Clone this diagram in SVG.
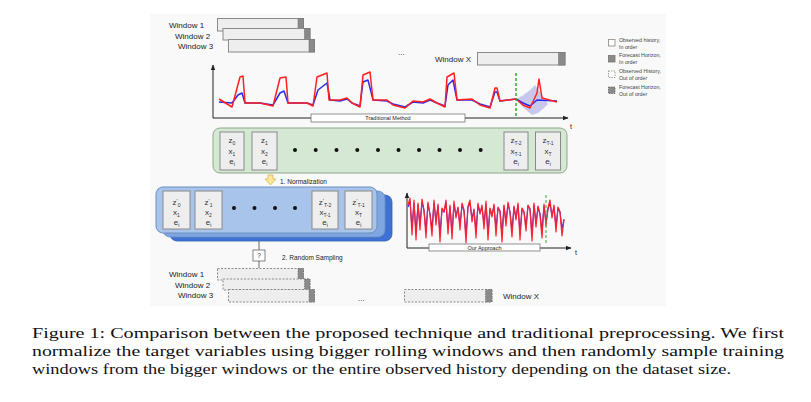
<svg xmlns="http://www.w3.org/2000/svg" width="811" height="402" viewBox="0 0 811 402">
<defs>
<style>
.lbl{font-family:"Liberation Sans",Arial,sans-serif;fill:#222;}
.win{fill:#eeeeee;stroke:#8a8a8a;stroke-width:1;}
.cap{fill:#8a8a8a;stroke:#777;stroke-width:0.6;}
.dwin{fill:#eeeeee;stroke:#8a8a8a;stroke-width:1;stroke-dasharray:2,1.5;}
.dcap{fill:#8a8a8a;stroke:#666;stroke-width:0.6;stroke-dasharray:1.5,1;}
.cell{fill:#eeeeee;stroke:#8a8a8a;stroke-width:1;}
.ct{font-family:"Liberation Sans",Arial,sans-serif;font-size:8px;fill:#333;text-anchor:middle;}
.axis{stroke:#222;stroke-width:1;fill:none;}
.dot{fill:#111;}
.lg{font-family:"Liberation Sans",Arial,sans-serif;font-size:5.3px;fill:#444;}
.cap2{font-family:"Liberation Serif","Times New Roman",serif;font-size:15.5px;fill:#111;}
</style>
<marker id="ah" viewBox="0 0 10 10" refX="9" refY="5" markerWidth="6" markerHeight="6" orient="auto">
<path d="M0,1 L10,5 L0,9 z" fill="#222"/>
</marker>
</defs>
<rect x="0" y="0" width="811" height="402" fill="#ffffff"/>
<rect x="150" y="14" width="516" height="292" fill="#f9f9f9"/>

<g id="top-windows">
<text class="lbl" x="169" y="28" font-size="8">Window 1</text>
<rect class="win" x="217.5" y="18.5" width="86" height="12.5"/>
<rect class="cap" x="298" y="18.5" width="5.5" height="12.5"/>
<text class="lbl" x="175" y="39" font-size="8">Window 2</text>
<rect class="win" x="223" y="28.5" width="87" height="11.5"/>
<rect class="cap" x="304.5" y="28.5" width="5.5" height="11.5"/>
<text class="lbl" x="178" y="49" font-size="8">Window 3</text>
<rect class="win" x="228.5" y="39.5" width="86" height="12.5"/>
<rect class="cap" x="309" y="39.5" width="5.5" height="12.5"/>
<text class="lbl" x="398" y="55" font-size="8">...</text>
<text class="lbl" x="435" y="62" font-size="8">Window X</text>
<rect class="win" x="477.5" y="52.5" width="87.5" height="12.5"/>
<rect class="cap" x="558.5" y="52.5" width="6.5" height="12.5"/>
</g>

<g id="legend">
<rect x="608.5" y="39.5" width="6.5" height="6.5" fill="#fff" stroke="#888" stroke-width="0.8"/>
<text class="lg" x="619" y="41.5">Observed history,</text>
<text class="lg" x="619" y="48.5">In order</text>
<rect x="608.5" y="55.5" width="6.5" height="6.5" fill="#8a8a8a" stroke="#777" stroke-width="0.8"/>
<text class="lg" x="619" y="57">Forecast Horizon,</text>
<text class="lg" x="619" y="64">In order</text>
<rect x="608.5" y="71" width="6.5" height="6.5" fill="#fff" stroke="#888" stroke-width="0.8" stroke-dasharray="1.5,1"/>
<text class="lg" x="619" y="73">Observed History,</text>
<text class="lg" x="619" y="80">Out of order</text>
<rect x="608.5" y="87" width="6.5" height="6.5" fill="#8a8a8a" stroke="#666" stroke-width="0.8" stroke-dasharray="1.5,1"/>
<text class="lg" x="619" y="88.5">Forecast Horizon,</text>
<text class="lg" x="619" y="95.5">Out of order</text>
</g>

<g id="top-chart">
<line class="axis" x1="213" y1="118" x2="213" y2="65" marker-end="url(#ah)"/>
<line class="axis" x1="213" y1="118" x2="568" y2="118" marker-end="url(#ah)"/>
<text class="lbl" x="570" y="129" font-size="7">t</text>
<polygon points="516,99 522,96 530,90 535,85 540,92 545,100 548,104 544,108 538,113 532,115 526,110 520,104" fill="#8080e0" fill-opacity="0.4"/>
<polyline fill="none" stroke="#2a2aee" stroke-width="1.5" stroke-linejoin="round" points="219,102 232,103 238,95 242,93 245,103 260,103 273,105 280,93 284,91 288,103 307,103 313,105 318,90 327,83 330,100 340,101 347,99 352,103 360,106 363,82 368,80 373,100 387,101 393,104 405,107 413,102 423,103 430,100 437,103 445,106 448,85 453,80 457,100 472,100 480,104 490,107 495,92 497,92 500,101 516,99 523,103 530,106 537,100 557,101"/>
<polyline fill="none" stroke="#ff2020" stroke-width="1.5" stroke-linejoin="round" points="219,99 232,107 240,77 243,76 245,103 260,103 273,106 280,78 286,77 288,103 307,103 313,106 317,77 327,73 329,100 340,100 347,98 352,103 360,107 363,75 370,72 373,100 387,100 393,105 405,108 413,101 423,102 430,99 437,103 445,107 447,77 454,73 457,100 472,99 480,105 490,108 495,88 497,88 500,101 516,99 523,105 530,108 537,93 539,79 542,98 557,102"/>
<line x1="516" y1="73" x2="516" y2="117" stroke="#33aa33" stroke-width="1.5" stroke-dasharray="3,2"/>
<rect x="311" y="114" width="154" height="8" fill="#fff" stroke="#777" stroke-width="0.8"/>
<text class="lbl" x="388" y="120.2" font-size="5.5" text-anchor="middle">Traditional Method</text>
</g>

<g id="green-sequence">
<rect x="213" y="128" width="354" height="45" rx="7" fill="#d5e8d4" stroke="#8fa889" stroke-width="1"/>
<rect class="cell" x="220" y="132" width="24" height="38"/>
<text class="ct" x="232" y="143">z<tspan font-size="5" dy="2">0</tspan></text>
<text class="ct" x="232" y="154">x<tspan font-size="5" dy="2">1</tspan></text>
<text class="ct" x="232" y="164">e<tspan font-size="5" dy="2">i</tspan></text>
<rect class="cell" x="252" y="132" width="25" height="38"/>
<text class="ct" x="264.5" y="143">z<tspan font-size="5" dy="2">1</tspan></text>
<text class="ct" x="264.5" y="154">x<tspan font-size="5" dy="2">2</tspan></text>
<text class="ct" x="264.5" y="164">e<tspan font-size="5" dy="2">i</tspan></text>
<circle class="dot" cx="295" cy="150" r="2"/>
<circle class="dot" cx="315.7" cy="150" r="2"/>
<circle class="dot" cx="336.5" cy="150" r="2"/>
<circle class="dot" cx="357.3" cy="150" r="2"/>
<circle class="dot" cx="378" cy="150" r="2"/>
<circle class="dot" cx="398.5" cy="150" r="2"/>
<circle class="dot" cx="419" cy="150" r="2"/>
<circle class="dot" cx="439.5" cy="150" r="2"/>
<circle class="dot" cx="460" cy="150" r="2"/>
<circle class="dot" cx="480.7" cy="150" r="2"/>
<rect class="cell" x="504" y="132" width="24" height="38"/>
<text class="ct" x="516" y="143">z<tspan font-size="5" dy="2">T-2</tspan></text>
<text class="ct" x="516" y="154">x<tspan font-size="5" dy="2">T-1</tspan></text>
<text class="ct" x="516" y="164">e<tspan font-size="5" dy="2">i</tspan></text>
<rect class="cell" x="535.5" y="132" width="25" height="38"/>
<text class="ct" x="548" y="143">z<tspan font-size="5" dy="2">T-1</tspan></text>
<text class="ct" x="548" y="154">x<tspan font-size="5" dy="2">T</tspan></text>
<text class="ct" x="548" y="164">e<tspan font-size="5" dy="2">i</tspan></text>
</g>

<g id="normalization">
<polygon points="268,175 273,175 273,179 276,179 270.5,185 265,179 268,179" fill="#ffe599" stroke="#d6b656" stroke-width="0.8"/>
<text class="lbl" x="280" y="184" font-size="6.5">1. Normalization</text>
</g>

<g id="blue-sequence">
<rect x="170" y="195" width="222" height="46" rx="7" fill="#3d72d4" stroke="#2f5fb8" stroke-width="0.8"/>
<rect x="163" y="191" width="222" height="46" rx="7" fill="#7ea6e0" stroke="#6c8ebf" stroke-width="0.8"/>
<rect x="156" y="187" width="221" height="46" rx="7" fill="#a9c4eb" stroke="#6c8ebf" stroke-width="1"/>
<rect class="cell" x="163" y="191" width="27" height="38"/>
<text class="ct" x="176.5" y="205">z<tspan font-size="6" dy="-2.5">'</tspan><tspan font-size="5" dy="4">0</tspan></text>
<text class="ct" x="176.5" y="215">x<tspan font-size="5" dy="2">1</tspan></text>
<text class="ct" x="176.5" y="225">e<tspan font-size="5" dy="2">i</tspan></text>
<rect class="cell" x="195" y="191" width="27" height="38"/>
<text class="ct" x="208.5" y="205">z<tspan font-size="6" dy="-2.5">'</tspan><tspan font-size="5" dy="4">1</tspan></text>
<text class="ct" x="208.5" y="215">x<tspan font-size="5" dy="2">2</tspan></text>
<text class="ct" x="208.5" y="225">e<tspan font-size="5" dy="2">i</tspan></text>
<circle class="dot" cx="234" cy="208" r="2"/>
<circle class="dot" cx="254.5" cy="208" r="2"/>
<circle class="dot" cx="275" cy="208" r="2"/>
<circle class="dot" cx="295" cy="208" r="2"/>
<rect class="cell" x="312" y="191" width="26" height="38"/>
<text class="ct" x="325" y="205">z<tspan font-size="6" dy="-2.5">'</tspan><tspan font-size="5" dy="4">T-2</tspan></text>
<text class="ct" x="325" y="215">x<tspan font-size="5" dy="2">T-1</tspan></text>
<text class="ct" x="325" y="225">e<tspan font-size="5" dy="2">i</tspan></text>
<rect class="cell" x="345" y="191" width="27" height="38"/>
<text class="ct" x="358.5" y="205">z<tspan font-size="6" dy="-2.5">'</tspan><tspan font-size="5" dy="4">T-1</tspan></text>
<text class="ct" x="358.5" y="215">x<tspan font-size="5" dy="2">T</tspan></text>
<text class="ct" x="358.5" y="225">e<tspan font-size="5" dy="2">i</tspan></text>
</g>

<g id="connectors">
<line x1="259" y1="241" x2="259" y2="250" stroke="#666" stroke-width="1"/>
<line x1="259" y1="261" x2="259" y2="268" stroke="#666" stroke-width="1"/>
</g>

<g id="random-sampling">
<rect x="253" y="250" width="12" height="11" fill="#fff" stroke="#666" stroke-width="0.8"/>
<text class="lbl" x="259" y="258.2" font-size="6.5" text-anchor="middle">?</text>
<text class="lbl" x="282" y="259.5" font-size="6.5">2. Random Sampling</text>
</g>

<g id="bottom-chart">
<line class="axis" x1="407" y1="248" x2="407" y2="193" marker-end="url(#ah)"/>
<line class="axis" x1="407" y1="248" x2="571" y2="248" marker-end="url(#ah)"/>
<text class="lbl" x="575" y="255" font-size="7">t</text>
<polyline fill="none" stroke="#3030ee" stroke-width="1.2" stroke-linejoin="round" points="408,207 410,201 412,228 414,203 416,232 418,205 420,224 422,202 424,211 426,230 428,204 430,214 432,229 434,203 436,221 438,206 440,234 442,209 444,212 446,203 448,228 450,207 452,232 454,204 456,216 458,208 460,225 462,205 464,211 466,235 468,207 470,203 472,219 474,210 476,231 478,205 480,213 482,207 484,224 486,204 488,233 490,209 492,215 494,206 496,229 498,208 500,211 502,234 504,206 506,222 508,204 510,212 512,230 514,207 516,218 518,205 520,233 522,209 524,212 526,226 528,206 530,209 532,234 534,205 536,223 538,207 540,214 542,231 544,206 546,222 548,209 550,203 552,216 554,207 556,227 558,208 560,212 562,229 564,219"/>
<polyline fill="none" stroke="#ff2030" stroke-width="1.2" stroke-linejoin="round" points="408,205 410,198 412,235 414,200 416,240 418,203 420,230 422,199 424,210 426,238 428,202 430,215 432,236 434,200 436,225 438,204 440,242 442,208 444,212 446,200 448,234 450,205 452,239 454,201 456,218 458,207 460,230 462,203 464,210 466,243 468,206 470,200 472,222 474,209 476,238 478,203 480,214 482,205 484,229 486,201 488,240 490,208 492,217 494,204 496,236 498,207 500,211 502,242 504,205 506,226 508,202 510,213 512,237 514,206 516,220 518,203 520,240 522,208 524,212 526,231 528,205 530,209 532,241 534,203 536,227 538,206 540,215 542,238 544,204 546,226 548,208 550,200 552,218 554,205 556,232 558,207 560,212 562,236 564,220"/>
<line x1="546" y1="195" x2="546" y2="245" stroke="#33aa33" stroke-width="1" stroke-dasharray="3,2"/>
<rect x="429" y="244" width="111" height="7" fill="#fff" stroke="#777" stroke-width="0.8"/>
<text class="lbl" x="484.5" y="249.7" font-size="5.5" text-anchor="middle">Our Approach</text>
</g>

<g id="bottom-windows">
<text class="lbl" x="169" y="277" font-size="8">Window 1</text>
<rect class="dwin" x="217.5" y="268.5" width="86" height="11.5"/>
<rect class="dcap" x="298" y="268.5" width="5.5" height="11.5"/>
<text class="lbl" x="175" y="288" font-size="8">Window 2</text>
<rect class="dwin" x="223" y="279" width="87" height="11"/>
<rect class="dcap" x="304.5" y="279" width="5.5" height="11"/>
<text class="lbl" x="178" y="298" font-size="8">Window 3</text>
<rect class="dwin" x="228.5" y="289.5" width="86" height="12.5"/>
<rect class="dcap" x="309" y="289.5" width="5.5" height="12.5"/>
<text class="lbl" x="358" y="301" font-size="8">...</text>
<rect class="dwin" x="404.5" y="289.5" width="87.5" height="12.5"/>
<rect class="dcap" x="485.5" y="289.5" width="6.5" height="12.5"/>
<text class="lbl" x="503" y="299" font-size="8">Window X</text>
</g>

<g id="caption">
<text class="cap2" x="32" y="338" textLength="752" lengthAdjust="spacingAndGlyphs">Figure 1: Comparison between the proposed technique and traditional preprocessing.  We first</text>
<text class="cap2" x="32" y="356" textLength="752" lengthAdjust="spacingAndGlyphs">normalize the target variables using bigger rolling windows and then randomly sample training</text>
<text class="cap2" x="32" y="374" textLength="699" lengthAdjust="spacingAndGlyphs">windows from the bigger windows or the entire observed history depending on the dataset size.</text>
</g>
</svg>
